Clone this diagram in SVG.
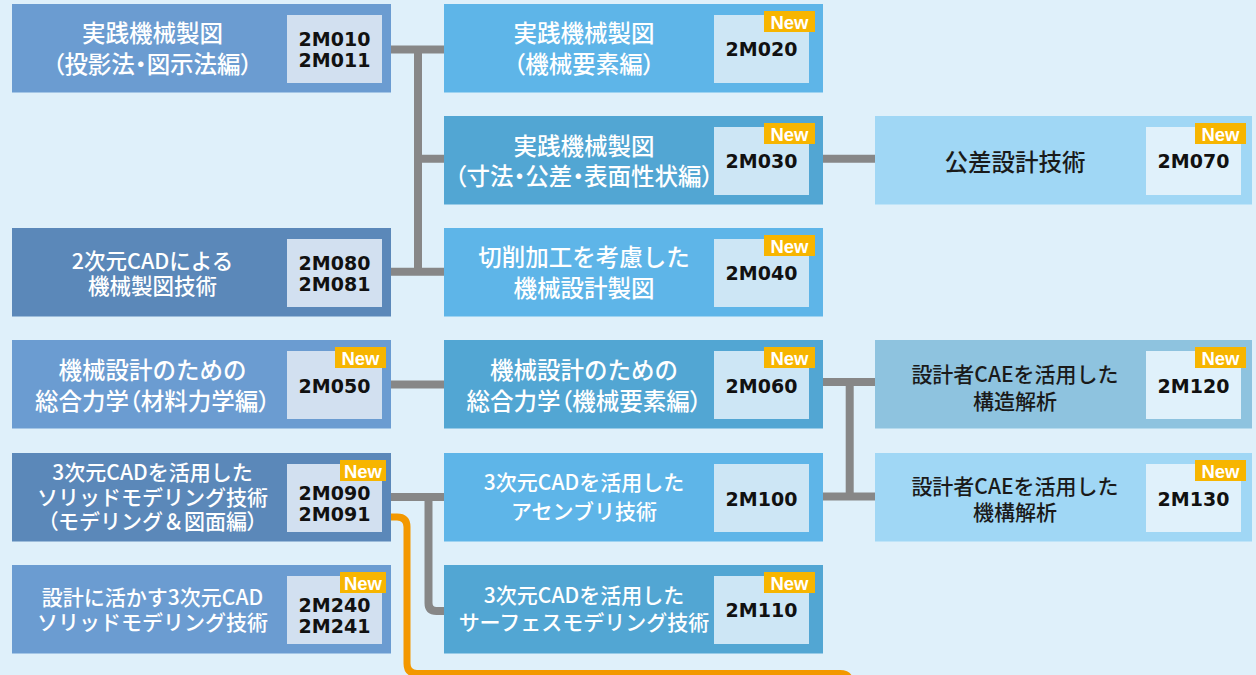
<svg xmlns="http://www.w3.org/2000/svg" width="1256" height="675" viewBox="0 0 1256 675">
<style>
.bg{fill:#dff0fa}
.n1{fill:#6b9cd1}.n1d{fill:#5b88b9}.n2{fill:#5eb5e8}.n2d{fill:#52a6d3}.n3{fill:#a0d7f5}.n3d{fill:#8ec3df}
.b1{fill:#d2e0f0}.b2{fill:#cde6f5}.b3{fill:#e0f1fb}
.badge{fill:#f7b500}
.t{font-family:"Noto Sans CJK JP","Noto Sans",sans-serif;font-weight:500;font-size:23.5px;fill:#ffffff;text-anchor:middle}
.s{font-size:21px}
.m{font-size:21.5px}
.dk{fill:#1a1a1a}
.p{font-feature-settings:"palt"}
.code{font-family:"DejaVu Sans",sans-serif;font-weight:bold;font-size:19px;fill:#111;text-anchor:middle}
.new{font-family:"Liberation Sans",Arial,sans-serif;font-weight:bold;font-size:18.5px;fill:#fff;text-anchor:middle}
.conn{fill:none;stroke:#878787;stroke-width:8}
.org{fill:none;stroke:#f39800;stroke-width:7}
</style>
<rect class="bg" x="0" y="0" width="1256" height="675"/>

<g id="connectors">
<path class="conn" d="M391,49.5 H444 M418,49.5 V272 M418,158.7 H444 M391,271.7 H444"/>
<path class="conn" d="M823,158.7 H875"/>
<path class="conn" d="M391,384.5 H444"/>
<path class="conn" d="M823,382 H875 M849.7,382 V496.5 M823,496.5 H875"/>
<path class="conn" d="M391,497 H444 M428.5,497 V603 Q428.5,611 436.5,611 H444"/>
<path class="org" d="M391,517 H397 Q407,517 407,527 V663.5 Q407,673.5 417,673.5 H840 Q850,673.5 850,683.5"/>
</g>

<g id="n2M010">
<rect class="n1" x="12" y="4" width="379" height="88.5"/>
<rect class="b1" x="287" y="15" width="95" height="68"/>
<text class="t" x="152.5" y="42.2">実践機械製図</text>
<text class="t" x="152.5" y="73.1"><tspan class="p">（</tspan>投影法<tspan class="p">・</tspan>図示法編<tspan class="p">）</tspan></text>
<text class="code" x="334.5" y="45.5">2M010</text>
<text class="code" x="334.5" y="66.5">2M011</text>
</g>

<g id="n2M080">
<rect class="n1d" x="12" y="228" width="379" height="88.5"/>
<rect class="b1" x="287" y="239" width="95" height="68"/>
<text class="t m" x="152.5" y="269">2次元CADによる</text>
<text class="t m" x="152.5" y="294">機械製図技術</text>
<text class="code" x="334.5" y="269.5">2M080</text>
<text class="code" x="334.5" y="290.5">2M081</text>
</g>

<g id="n2M050">
<rect class="n1" x="12" y="340" width="379" height="88.5"/>
<rect class="b1" x="287" y="351" width="95" height="68"/>
<rect class="badge" x="335" y="347" width="51" height="21"/>
<text class="new" x="360.5" y="364.5">New</text>
<text class="t" x="152.5" y="378.9">機械設計のための</text>
<text class="t" x="152.5" y="409.7">総合力学<tspan class="p">（</tspan>材料力学編<tspan class="p">）</tspan></text>
<text class="code" x="334.5" y="393">2M050</text>
</g>

<g id="n2M090">
<rect class="n1d" x="12" y="453" width="379" height="88.5"/>
<rect class="b1" x="287" y="464" width="95" height="68"/>
<rect class="badge" x="340" y="460" width="46" height="21"/>
<text class="new" x="363" y="477.5">New</text>
<text class="t s" x="152.5" y="480.3">3次元CADを活用した</text>
<text class="t s" x="152.5" y="505.3">ソリッドモデリング技術</text>
<text class="t s" x="152.5" y="529.3"><tspan class="p">（</tspan>モデリング＆図面編<tspan class="p">）</tspan></text>
<text class="code" x="334.5" y="500">2M090</text>
<text class="code" x="334.5" y="521">2M091</text>
</g>

<g id="n2M240">
<rect class="n1" x="12" y="565" width="379" height="88.5"/>
<rect class="b1" x="287" y="576" width="95" height="68"/>
<rect class="badge" x="340" y="572" width="46" height="21"/>
<text class="new" x="363" y="589.5">New</text>
<text class="t s" x="152.5" y="604.5">設計に活かす3次元CAD</text>
<text class="t s" x="152.5" y="629.5">ソリッドモデリング技術</text>
<text class="code" x="334.5" y="612">2M240</text>
<text class="code" x="334.5" y="633">2M241</text>
</g>

<g id="n2M020">
<rect class="n2" x="444" y="4" width="379" height="88.5"/>
<rect class="b2" x="714" y="15" width="95" height="68"/>
<rect class="badge" x="764" y="11" width="51" height="21"/>
<text class="new" x="789.5" y="28.5">New</text>
<text class="t" x="584" y="42.2">実践機械製図</text>
<text class="t" x="584" y="73.1"><tspan class="p">（</tspan>機械要素編<tspan class="p">）</tspan></text>
<text class="code" x="761.5" y="56">2M020</text>
</g>

<g id="n2M030">
<rect class="n2d" x="444" y="116" width="379" height="88.5"/>
<rect class="b2" x="714" y="127" width="95" height="68"/>
<rect class="badge" x="764" y="123" width="51" height="21"/>
<text class="new" x="789.5" y="140.5">New</text>
<text class="t" x="584" y="154.7">実践機械製図</text>
<text class="t" x="584" y="184.7"><tspan class="p">（</tspan>寸法<tspan class="p">・</tspan>公差<tspan class="p">・</tspan>表面性状編<tspan class="p">）</tspan></text>
<text class="code" x="761.5" y="167.5">2M030</text>
</g>

<g id="n2M040">
<rect class="n2" x="444" y="228" width="379" height="88.5"/>
<rect class="b2" x="714" y="239" width="95" height="68"/>
<rect class="badge" x="764" y="235" width="51" height="21"/>
<text class="new" x="789.5" y="252.5">New</text>
<text class="t" x="584" y="266">切削加工を考慮した</text>
<text class="t" x="584" y="296.5">機械設計製図</text>
<text class="code" x="761.5" y="280">2M040</text>
</g>

<g id="n2M060">
<rect class="n2d" x="444" y="340" width="379" height="88.5"/>
<rect class="b2" x="714" y="351" width="95" height="68"/>
<rect class="badge" x="764" y="347" width="51" height="21"/>
<text class="new" x="789.5" y="364.5">New</text>
<text class="t" x="584" y="378.9">機械設計のための</text>
<text class="t" x="584" y="409.7">総合力学<tspan class="p">（</tspan>機械要素編<tspan class="p">）</tspan></text>
<text class="code" x="761.5" y="392.5">2M060</text>
</g>

<g id="n2M100">
<rect class="n2" x="444" y="453" width="379" height="88.5"/>
<rect class="b2" x="714" y="464" width="95" height="68"/>
<text class="t s" x="584" y="489.5">3次元CADを活用した</text>
<text class="t s" x="584" y="518.6">アセンブリ技術</text>
<text class="code" x="761.5" y="505.5">2M100</text>
</g>

<g id="n2M110">
<rect class="n2d" x="444" y="565" width="379" height="88.5"/>
<rect class="b2" x="714" y="576" width="95" height="68"/>
<rect class="badge" x="764" y="572" width="51" height="21"/>
<text class="new" x="789.5" y="589.5">New</text>
<text class="t s" x="584" y="602.8">3次元CADを活用した</text>
<text class="t s" x="584" y="630.3">サーフェスモデリング技術</text>
<text class="code" x="761.5" y="617">2M110</text>
</g>

<g id="n2M070">
<rect class="n3" x="875" y="116" width="377" height="88.5"/>
<rect class="b3" x="1146" y="127" width="95" height="68"/>
<rect class="badge" x="1195" y="123" width="51" height="21"/>
<text class="new" x="1220.5" y="140.5">New</text>
<text class="t dk" x="1015" y="170.6">公差設計技術</text>
<text class="code" x="1193.5" y="168">2M070</text>
</g>

<g id="n2M120">
<rect class="n3d" x="875" y="340" width="377" height="88.5"/>
<rect class="b3" x="1146" y="351" width="95" height="68"/>
<rect class="badge" x="1195" y="347" width="51" height="21"/>
<text class="new" x="1220.5" y="364.5">New</text>
<text class="t s dk" x="1015" y="382">設計者CAEを活用した</text>
<text class="t s dk" x="1015" y="408.6">構造解析</text>
<text class="code" x="1193.5" y="393">2M120</text>
</g>

<g id="n2M130">
<rect class="n3" x="875" y="453" width="377" height="88.5"/>
<rect class="b3" x="1146" y="464" width="95" height="68"/>
<rect class="badge" x="1195" y="460" width="51" height="21"/>
<text class="new" x="1220.5" y="477.5">New</text>
<text class="t s dk" x="1015" y="493.6">設計者CAEを活用した</text>
<text class="t s dk" x="1015" y="520.3">機構解析</text>
<text class="code" x="1193.5" y="506">2M130</text>
</g>
</svg>
